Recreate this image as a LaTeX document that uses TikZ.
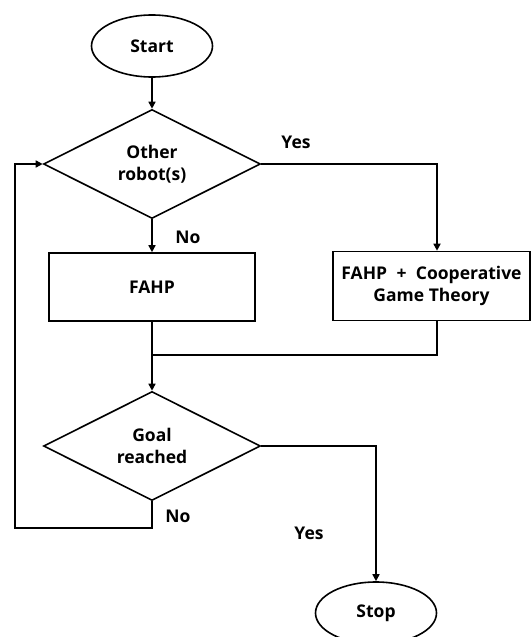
\documentclass[tikz,border=0pt]{standalone}
\usepackage{fontspec}
\setmainfont{Open Sans}
\usetikzlibrary{shapes.geometric,arrows.meta}
\begin{document}
\begin{tikzpicture}[x=1pt,y=-1pt,
  every node/.style={font=\fontsize{17.5}{21.5}\selectfont\bfseries},
  line/.style={line width=1.6pt},
  arr/.style={line width=1.6pt,-{Triangle[length=7pt,width=7pt]}},
  term/.style={draw,line width=1.6pt,ellipse,minimum width=121pt,minimum height=62pt,inner sep=0pt},
  dec/.style={draw,line width=1.6pt,diamond,minimum width=217pt,minimum height=109pt,inner sep=0pt,align=center},
  proc/.style={draw,line width=1.6pt,rectangle,inner sep=0pt,align=center},
  lbl/.style={inner sep=0pt}]
\useasboundingbox (0,0) rectangle (531,637);
\node[term] (start) at (152,46) {Start};
\node[dec] (d1) at (152,164) {Other\\robot(s)};
\node[proc,minimum width=206pt,minimum height=68pt] (fahp) at (152,287) {FAHP};
\node[proc,minimum width=197pt,minimum height=69pt] (coop) at (431.5,286) {FAHP \;+\; Cooperative\\Game Theory};
\node[dec] (d2) at (152,446) {Goal\\reached};
\node[term] (stop) at (376,613) {Stop};
\coordinate (yj) at (437,164);
\coordinate (m) at (152,355);
\coordinate (lp) at (15,528);
\node[lbl] (l1) at (296,142) {Yes};
\node[lbl] (l2) at (188,237) {No};
\node[lbl] (l3) at (178,516) {No};
\node[lbl] (l4) at (309,533) {Yes};
\draw[arr] (start) -- (d1.north);
\draw[arr] (d1.south) -- (fahp.north);
\draw[arr] (d1.east) -- (yj) -- (coop.north -| yj);
\draw[line] (fahp.south) -- (m);
\draw[line] (coop.south -| yj) |- (m);
\draw[arr] (m) -- (d2.north);
\draw[arr] (d2.east) -| (stop.north);
\draw[arr] (d2.south) |- (lp) |- (d1.west);
\end{tikzpicture}
\end{document}
